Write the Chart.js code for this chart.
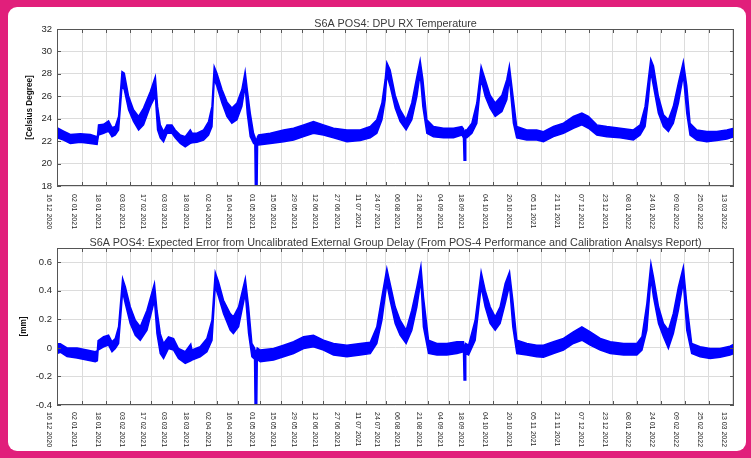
<!DOCTYPE html>
<html>
<head>
<meta charset="utf-8">
<script src="https://cdn.jsdelivr.net/npm/chart.js@4.4.1/dist/chart.umd.min.js"></script>
<style>
  html, body { margin: 0; padding: 0; background: #fff; }
  #frame { position: absolute; left: 0; top: 0; width: 751px; height: 458px; background: #e11f7b; }
  #inner { position: absolute; left: 8px; top: 7px; right: 5px; bottom: 7px; background: #fff; border-radius: 9px; }
  canvas { position: absolute; left: 0; top: 0; }
</style>
</head>
<body>
<div id="frame"><div id="inner"></div></div>
<canvas id="tempChart" width="751" height="458"></canvas>
<canvas id="errChart" width="751" height="458"></canvas>
<script>
// date ticks (dd mm yyyy), x values are days since 16 12 2020
const tickLabels = ['16 12 2020', '02 01 2021', '18 01 2021', '03 02 2021', '17 02 2021', '03 03 2021',
    '18 03 2021', '02 04 2021', '16 04 2021', '01 05 2021', '15 05 2021', '29 05 2021', '12 06 2021',
    '27 06 2021', '11 07 2021', '24 07 2021', '06 08 2021', '21 08 2021', '04 09 2021', '18 09 2021',
    '04 10 2021', '20 10 2021', '05 11 2021', '21 11 2021', '07 12 2021', '23 12 2021', '08 01 2022',
    '24 01 2022', '09 02 2022', '25 02 2022', '13 03 2022'];

// DPU RX temperature, upper / lower edge of the band
const tempDays = [0, 4.4, 8.9, 15.6, 22.3, 26.8, 27.1, 27.8, 31.2, 34.5, 36.8, 39.0, 41.2, 43.5, 45.0, 47.9,
    51.2, 54.6, 57.9, 62.4, 65.8, 67.3, 69.1, 71.3, 73.6, 76.9, 79.1, 82.5, 85.8, 89.2, 90.5, 93.6, 98.1,
    101.4, 103.7, 105.2, 107.0, 110.4, 113.7, 117.0, 120.4, 123.7, 125.9, 127.3, 129.3, 131.5, 132.4, 132.8,
    133.8, 134.2, 134.9, 142.7, 151.6, 158.3, 165.0, 171.6, 178.3, 185.0, 194.0, 202.9, 209.6, 214.0, 217.4, 219.6,
    220.7, 222.9, 226.3, 229.6, 233.6, 237.4, 240.8, 243.0, 244.8, 247.5, 251.9, 258.6, 265.3, 270.9, 272.0,
    272.4, 273.1, 273.5, 274.2, 277.6, 280.9, 283.8, 286.5, 289.8, 293.2, 297.7, 301.0, 302.7, 305.4, 307.6, 314.3,
    321.0, 325.5, 332.2, 338.9, 345.5, 351.2, 355.6, 361.2, 367.9, 376.8, 385.7, 390.2, 393.5, 395.7, 397.3,
    399.1, 402.4, 405.8, 409.1, 412.4, 415.8, 419.1, 421.4, 423.6, 428.1, 434.8, 441.5, 448.2, 453.0];
const tempHigh = [23.2, 22.9, 22.6, 22.65, 22.6, 22.4, 22.5, 23.45, 23.5, 23.8, 23.2, 23.3, 24.2, 28.2, 28.05, 26.0,
    24.8, 24.2, 24.95, 26.4, 27.75, 25.1, 23.45, 22.85, 23.45, 23.45, 23.0, 22.55, 22.4, 23.0, 22.7, 22.7, 23.0,
    23.75, 25.1, 28.65, 28.05, 26.6, 25.5, 24.95, 25.4, 26.6, 28.2, 26.6, 24.5, 22.7, 22.4, 22.2,
    22.2, 22.4, 22.55, 22.7, 23.0, 23.15, 23.45, 23.75, 23.45, 23.15, 23.0, 23.0, 23.3, 23.9, 25.4, 27.5,
    29.0, 28.35, 26.1, 24.8, 23.9, 25.4, 27.75, 29.2, 27.5, 23.9, 23.3, 23.15, 23.15, 23.3, 23.1,
    22.9, 22.9, 23.0, 23.0, 23.6, 25.4, 28.65, 27.5, 26.1, 25.4, 26.1, 27.5, 28.7, 25.7, 23.3, 23.0,
    23.0, 22.85, 23.3, 23.6, 24.2, 24.5, 24.2, 23.45, 23.3, 23.15, 23.0, 23.45, 25.1, 27.5, 29.3,
    28.7, 26.0, 24.35, 23.9, 25.1, 27.2, 29.1, 26.9, 23.6, 23.0, 22.85, 22.85, 23.0, 23.15];
const tempLow = [22.3, 22.1, 21.8, 21.9, 21.8, 21.7, 21.7, 22.55, 22.7, 22.9, 22.4, 22.55, 23.0, 26.9, 26.6, 24.8,
    23.75, 23.0, 23.45, 25.1, 26.0, 23.0, 22.3, 21.95, 22.7, 22.7, 22.3, 21.8, 21.5, 21.8, 21.85, 21.9, 22.1,
    22.55, 23.3, 27.5, 26.9, 25.4, 24.2, 23.6, 23.9, 25.1, 26.9, 24.5, 22.4, 21.8, 21.7, 17.0,
    17.0, 21.7, 21.65, 21.8, 21.95, 22.1, 22.4, 22.7, 22.55, 22.3, 21.95, 22.05, 22.3, 22.7, 23.9, 25.7,
    27.9, 26.9, 24.95, 23.75, 23.0, 23.9, 26.0, 28.05, 25.1, 22.7, 22.4, 22.3, 22.3, 22.55, 22.3,
    20.3, 20.3, 22.3, 22.3, 22.7, 23.6, 27.5, 26.0, 24.95, 24.2, 24.65, 25.7, 27.6, 23.6, 22.3, 22.1,
    22.1, 21.95, 22.4, 22.7, 23.15, 23.45, 23.15, 22.55, 22.4, 22.3, 22.1, 22.55, 23.3, 25.7, 28.2,
    26.9, 24.5, 23.3, 22.85, 23.6, 25.4, 27.9, 24.5, 22.55, 22.1, 21.95, 22.05, 22.2, 22.4];

// expected error [mm], upper / lower edge of the band
const errDays = [0, 2.2, 6.7, 13.4, 20.0, 25.6, 27.0, 27.5, 31.2, 34.5, 36.8, 39.0, 41.2, 43.9, 45.7, 49.0,
    52.4, 55.7, 60.2, 65.2, 66.9, 69.1, 71.3, 74.6, 78.0, 81.3, 85.8, 89.5, 90.3, 95.8, 100.3, 103.7, 105.9,
    108.1, 111.4, 115.9, 118.0, 121.5, 126.0, 128.2, 130.4, 132.2, 132.6, 133.6, 134.0, 136.0, 144.9, 151.6, 158.3,
    165.0, 171.6, 178.3, 185.0, 194.0, 202.9, 209.6, 214.0, 217.4, 220.7, 222.9, 226.3, 229.6, 233.6, 237.4,
    240.8, 243.5, 245.2, 248.6, 254.2, 260.9, 267.6, 272.0, 272.4, 273.1, 273.5, 275.4, 279.8, 283.8, 286.5, 289.8,
    293.2, 296.5, 299.9, 302.8, 305.0, 307.7, 314.4, 321.0, 325.5, 332.2, 338.9, 345.5, 351.2, 356.8, 363.5,
    370.2, 379.1, 388.0, 391.4, 394.7, 397.4, 399.1, 402.5, 405.8, 409.1, 412.4, 415.8, 419.1, 421.4, 424.7,
    430.3, 437.0, 443.7, 450.3, 453.0];
const errHigh = [0.03, 0.03, 0.0, 0.0, -0.015, -0.027, -0.02, 0.05, 0.078, 0.09, 0.043, 0.066, 0.148, 0.486, 0.428, 0.288,
    0.194, 0.148, 0.264, 0.451, 0.264, 0.1, 0.031, 0.078, 0.066, -0.004, -0.027, 0.027, -0.015, 0.008, 0.066, 0.194, 0.528,
    0.462, 0.334, 0.241, 0.218, 0.288, 0.486, 0.288, 0.031, 0.0, -0.02, -0.02, 0.0, -0.015, -0.004, 0.019, 0.043,
    0.078, 0.089, 0.054, 0.031, 0.019, 0.031, 0.04, 0.148, 0.358, 0.556, 0.451, 0.288, 0.194, 0.124, 0.264,
    0.428, 0.574, 0.358, 0.054, 0.031, 0.031, 0.043, 0.043, 0.02, 0.02, 0.03, 0.019, 0.194, 0.532, 0.404, 0.288,
    0.218, 0.288, 0.451, 0.532, 0.334, 0.054, 0.031, 0.019, 0.019, 0.043, 0.066, 0.113, 0.148, 0.113, 0.066,
    0.043, 0.031, 0.031, 0.078, 0.311, 0.591, 0.497, 0.288, 0.171, 0.124, 0.241, 0.428, 0.567, 0.311, 0.031,
    0.008, -0.004, -0.004, 0.012, 0.026];
const errLow = [-0.04, -0.03, -0.06, -0.07, -0.085, -0.097, -0.09, -0.015, 0.008, 0.02, -0.027, -0.004, 0.031, 0.393, 0.311, 0.171,
    0.089, 0.054, 0.124, 0.334, 0.1, -0.039, -0.074, -0.004, -0.015, -0.074, -0.109, -0.09, -0.085, -0.062, -0.027, 0.054, 0.428,
    0.358, 0.241, 0.124, 0.101, 0.148, 0.381, 0.101, -0.062, -0.08, -0.46, -0.46, -0.08, -0.097, -0.085, -0.062, -0.039,
    -0.004, 0.008, -0.015, -0.05, -0.062, -0.05, -0.04, 0.031, 0.194, 0.451, 0.334, 0.171, 0.089, 0.031, 0.124,
    0.288, 0.474, 0.148, -0.039, -0.05, -0.05, -0.039, -0.027, -0.225, -0.225, -0.04, -0.05, 0.054, 0.428, 0.288, 0.171,
    0.124, 0.171, 0.311, 0.439, 0.148, -0.039, -0.05, -0.062, -0.066, -0.039, -0.015, 0.031, 0.054, 0.019, -0.015,
    -0.039, -0.05, -0.05, -0.015, 0.124, 0.486, 0.358, 0.171, 0.078, -0.004, 0.101, 0.264, 0.462, 0.124, -0.039,
    -0.062, -0.074, -0.066, -0.05, -0.039];

const tempTicks = [18, 20, 22, 24, 26, 28, 30, 32];
const errTicks = [-0.4, -0.2, 0, 0.2, 0.4, 0.6];

function dayOf(label) {
    const p = label.split(' ');
    return Math.round((Date.UTC(+p[2], +p[1] - 1, +p[0]) - Date.UTC(2020, 11, 16)) / 86400000);
}
const tickDays = tickLabels.map(dayOf);

const FONT = '"Liberation Sans", Arial, sans-serif';
const BLUE = '#0000ff';
const GRID = '#dcdcdc';

// MATLAB-like box, inward ticks, title and rotated date labels
const matlabAxes = {
    id: 'matlabAxes',
    afterDraw(chart, args, opts) {
        const { ctx, chartArea: a, scales: { x, y } } = chart;
        ctx.save();
        ctx.strokeStyle = '#555';
        ctx.lineWidth = 1;
        ctx.strokeRect(a.left + 0.5, a.top + 0.5, a.right - a.left - 1, a.bottom - a.top - 1);
        ctx.beginPath();
        x.ticks.forEach(t => {
            const px = Math.round(x.getPixelForValue(t.value)) + 0.5;
            ctx.moveTo(px, a.bottom); ctx.lineTo(px, a.bottom - 4);
            ctx.moveTo(px, a.top); ctx.lineTo(px, a.top + 4);
        });
        y.ticks.forEach(t => {
            const py = Math.round(y.getPixelForValue(t.value)) + 0.5;
            ctx.moveTo(a.left, py); ctx.lineTo(a.left + 4, py);
            ctx.moveTo(a.right, py); ctx.lineTo(a.right - 4, py);
        });
        ctx.stroke();

        ctx.fillStyle = '#3a3a3a';
        ctx.font = '10.8px ' + FONT;
        ctx.textAlign = 'center';
        ctx.textBaseline = 'alphabetic';
        ctx.fillText(opts.title, (a.left + a.right) / 2, a.top - 2);

        ctx.font = '7px ' + FONT;
        ctx.fillStyle = '#262626';
        ctx.textAlign = 'left';
        ctx.textBaseline = 'middle';
        x.ticks.forEach((t, i) => {
            const px = x.getPixelForValue(t.value);
            ctx.save();
            ctx.translate(px - 8.5, a.bottom + opts.labelGap);
            ctx.rotate(Math.PI / 2);
            ctx.fillText(tickLabels[i], 0, 0);
            ctx.restore();
        });
        ctx.restore();
    }
};

function band(days, hi, lo) {
    return [{
        data: days.map((d, i) => ({ x: d, y: hi[i] })),
        borderColor: BLUE, backgroundColor: BLUE, borderWidth: 1.5,
        pointRadius: 0, fill: '+1'
    }, {
        data: days.map((d, i) => ({ x: d, y: lo[i] })),
        borderColor: BLUE, backgroundColor: BLUE, borderWidth: 1.5,
        pointRadius: 0, fill: false
    }];
}

function makeChart(id, cfg) {
    return new Chart(document.getElementById(id), {
        type: 'line',
        data: { datasets: band(cfg.days, cfg.high, cfg.low) },
        plugins: [matlabAxes],
        options: {
            responsive: false,
            animation: false,
            devicePixelRatio: 1,
            layout: { padding: { left: 0, right: 17, top: cfg.top, bottom: 0 } },
            plugins: {
                legend: { display: false },
                tooltip: { enabled: false },
                matlabAxes: { title: cfg.title, labelGap: cfg.labelGap }
            },
            scales: {
                x: {
                    type: 'linear', min: 0, max: 453,
                    afterBuildTicks: s => { s.ticks = tickDays.map(v => ({ value: v })); },
                    afterFit: s => { s.height = 458 - cfg.bottom; },
                    ticks: { display: false },
                    grid: { color: GRID, drawTicks: false },
                    border: { display: false }
                },
                y: {
                    min: cfg.min, max: cfg.max,
                    afterBuildTicks: s => { s.ticks = cfg.ticks.map(v => ({ value: v })); },
                    afterFit: s => { s.width = 57; },
                    ticks: { font: { family: FONT, size: 9.5 }, color: '#262626', padding: 5, callback: v => String(v) },
                    grid: { color: GRID, drawTicks: false },
                    border: { display: false },
                    title: {
                        display: true, text: cfg.yTitle, color: '#111',
                        font: { family: FONT, size: 8.2, weight: 'bold' },
                        padding: { top: cfg.yTitleX - 4.9, bottom: 0 }
                    }
                }
            }
        }
    });
}

makeChart('tempChart', {
    days: tempDays, high: tempHigh, low: tempLow,
    min: 18, max: 32, ticks: tempTicks, top: 29, bottom: 186, labelGap: 8,
    title: 'S6A POS4: DPU RX Temperature', yTitle: '[Celsius Degree]', yTitleX: 30
});

makeChart('errChart', {
    days: errDays, high: errHigh, low: errLow,
    min: -0.4, max: 0.7, ticks: errTicks, top: 248, bottom: 405, labelGap: 7,
    title: 'S6A POS4: Expected Error from Uncalibrated External Group Delay (From POS-4 Performance and Calibration Analsys Report)',
    yTitle: '[mm]', yTitleX: 24
});
</script>
</body>
</html>
